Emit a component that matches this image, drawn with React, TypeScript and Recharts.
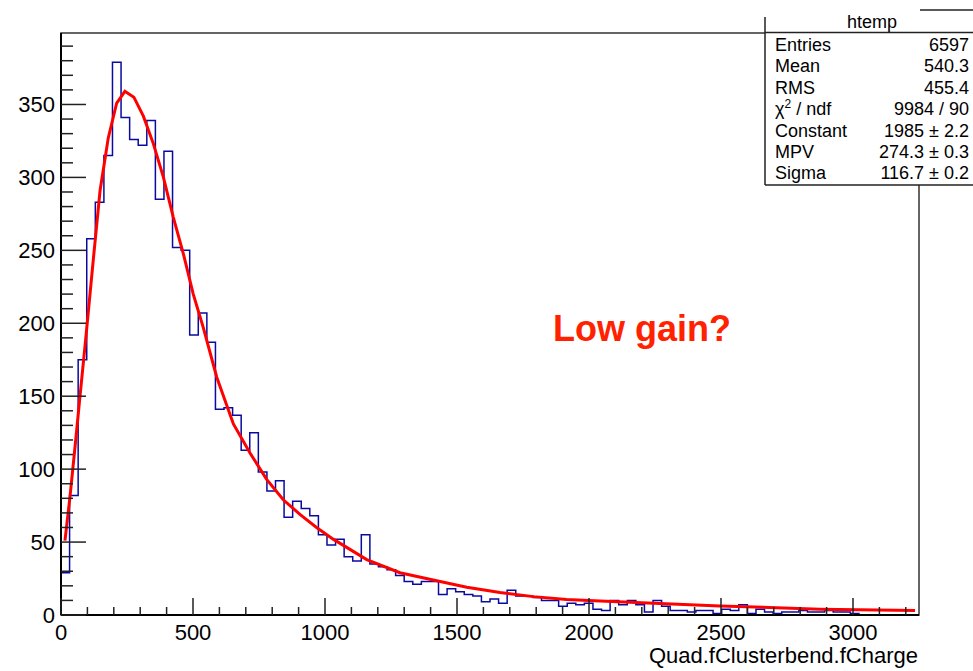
import React from "react";
import { ComposedChart, Line, XAxis, YAxis, ReferenceArea } from "recharts";

// histogram: 100 bins of 32.5 from 0 to 3250
const BIN_WIDTH = 32.5;
const binCounts = [
  29, 82, 175, 258, 283, 315, 379, 341, 326, 322,
  339, 285, 318, 252, 250, 192, 207, 187, 141, 142,
  137, 113, 125, 98, 85, 92, 67, 78, 73, 68,
  55, 48, 52, 40, 37, 55, 35, 33, 31, 27,
  23, 21, 23, 23, 14, 18, 16, 14, 13, 9,
  11, 8, 17, 13, 13, 12, 10, 10, 6, 8,
  7, 8, 4, 3, 10, 7, 10, 7, 2, 10,
  6, 3, 3, 2, 3, 3, 1, 4, 3, 7,
  1, 4, 2, 1, 2, 2, 3, 2, 2, 3,
  2, 2, 1, 0, 0, 0, 0, 0, 0, 0,
];

// landau fit curve
const fitX = [15, 34, 53, 72, 94, 122, 148, 179, 211, 242, 276, 312, 350, 388, 425, 463, 501, 539, 590, 653, 716, 779, 842, 905, 968, 1031, 1158, 1284, 1410, 1537, 1663, 1789, 1915, 2042, 2155, 2496, 2875, 3235];
const fitY = [51, 81, 115, 150, 190, 243, 291, 327, 351, 359, 355, 342, 323, 300, 273, 248, 220, 197, 163, 131, 111, 93, 79, 69, 60, 52, 38, 29, 24, 19, 15.5, 12.6, 10.7, 9.6, 8.7, 6.2, 4, 3];

const xTicks: number[] = [];
for (let v = 0; v <= 3200; v += 100) xTicks.push(v);
const yTicks: number[] = [];
for (let v = 0; v <= 390; v += 10) yTicks.push(v);

const statsRows = [
  ["Entries", "6597"],
  ["Mean", "540.3"],
  ["RMS", "455.4"],
  ["chi2", "9984 / 90"],
  ["Constant", "1985 \u00b1 2.2"],
  ["MPV", "274.3 \u00b1 0.3"],
  ["Sigma", "116.7 \u00b1 0.2"],
];

const histData = binCounts
  .map((c, i) => ({ x: i * BIN_WIDTH, y: c }))
  .concat([{ x: binCounts.length * BIN_WIDTH, y: binCounts[binCounts.length - 1] }]);
const fitData = fitX.map((x, i) => ({ x, y: fitY[i] }));

const FONT = "'Liberation Sans', Arial, Helvetica, sans-serif";

function XTick({ x, y, payload }: any) {
  const v = payload.value;
  const major = v % 500 === 0;
  return (
    <g>
      <line x1={x} x2={x} y1={y} y2={y - (major ? 17 : 8)} stroke="#222" strokeWidth={1.5} />
      {major && (
        <text x={x} y={y + 25} textAnchor="middle" fontSize={22} fontFamily={FONT} fill="#000">
          {v}
        </text>
      )}
    </g>
  );
}

function YTick({ x, y, payload }: any) {
  const v = payload.value;
  const major = v % 50 === 0;
  return (
    <g>
      <line x1={x} x2={x + (major ? 25 : 12)} y1={y} y2={y} stroke="#222" strokeWidth={1.5} />
      {major && (
        <text x={x - 6} y={y + 8} textAnchor="end" fontSize={22} fontFamily={FONT} fill="#000">
          {v}
        </text>
      )}
    </g>
  );
}

export default function App() {
  return (
    <div style={{ position: "absolute", left: 0, top: 0, width: 973, height: 671, background: "#fff", overflow: "hidden" }}>
      <ComposedChart width={973} height={671} margin={{ top: 33, right: 54, bottom: 55, left: 60 }}>
        <XAxis
          type="number"
          dataKey="x"
          domain={[0, 3250]}
          ticks={xTicks}
          interval={0}
          tick={<XTick />}
          tickLine={false}
          tickSize={0}
          tickMargin={0}
          height={1}
          allowDataOverflow
          axisLine={{ stroke: "#000", strokeWidth: 2 }}
        />
        <YAxis
          type="number"
          domain={[0, 399]}
          ticks={yTicks}
          interval={0}
          tick={<YTick />}
          tickLine={false}
          tickSize={0}
          tickMargin={0}
          width={1}
          allowDataOverflow
          axisLine={{ stroke: "#000", strokeWidth: 2 }}
        />
        <ReferenceArea x1={0} x2={3250} y1={0} y2={399} fill="none" fillOpacity={0} stroke="#333" strokeWidth={1.5} />
        <Line
          data={histData}
          dataKey="y"
          type="stepAfter"
          stroke="#0a0aa0"
          strokeWidth={1.5}
          dot={false}
          activeDot={false}
          isAnimationActive={false}
        />
        <Line
          data={fitData}
          dataKey="y"
          type="linear"
          stroke="#ff0000"
          strokeWidth={3}
          dot={false}
          activeDot={false}
          isAnimationActive={false}
        />
      </ComposedChart>
      <svg width={973} height={671} style={{ position: "absolute", left: 0, top: 0, pointerEvents: "none" }} fontFamily={FONT}>
        <text x={553} y={341} fontSize={36} fontWeight="bold" fill="#ff2200">
          Low gain?
        </text>
        <text x={918} y={663} fontSize={22} textAnchor="end" fill="#000">
          Quad.fClusterbend.fCharge
        </text>
        <rect x={765} y={17} width={220} height={168} fill="#fff" />
        <line x1={765} x2={765} y1={17} y2={185} stroke="#222" strokeWidth={1.5} />
        <line x1={765} x2={973} y1={185} y2={185} stroke="#222" strokeWidth={1.5} />
        <line x1={765} x2={973} y1={32.5} y2={32.5} stroke="#222" strokeWidth={1.5} />
        <line x1={920} x2={973} y1={10} y2={10} stroke="#222" strokeWidth={1.5} />
        <text x={872} y={28} fontSize={18} textAnchor="middle" fill="#000">
          htemp
        </text>
        {statsRows.map(([label, value], i) => {
          const by = 51 + i * 21.4;
          return (
            <g key={label}>
              {label === "chi2" ? (
                <text x={775} y={by} fontSize={18} fill="#000">
                  <tspan>{"\u03c7"}</tspan>
                  <tspan dy={-7} fontSize={12}>2</tspan>
                  <tspan dy={7}>{" / ndf"}</tspan>
                </text>
              ) : (
                <text x={775} y={by} fontSize={18} fill="#000">
                  {label}
                </text>
              )}
              <text x={969} y={by} fontSize={18} textAnchor="end" fill="#000">
                {value}
              </text>
            </g>
          );
        })}
      </svg>
    </div>
  );
}
